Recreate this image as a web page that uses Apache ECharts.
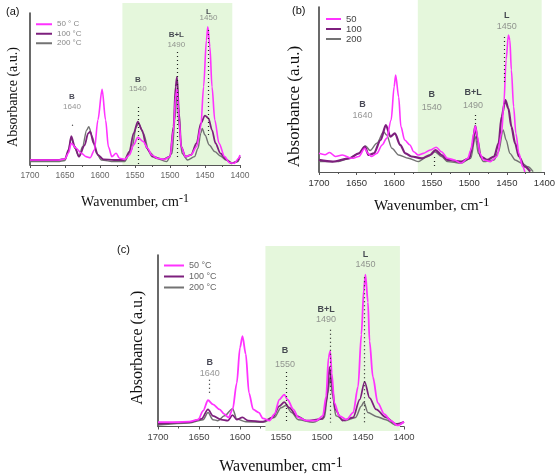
<!DOCTYPE html>
<html lang="en">
<head>
<meta charset="UTF-8">
<title>IR spectra</title>
<script src="https://cdn.jsdelivr.net/npm/echarts@6/dist/echarts.min.js"></script>
<style>html,body{margin:0;padding:0;background:#fff;}</style>
</head>
<body>
<div id="main" style="width:558px;height:476px;"></div>
<script type="text/javascript">

// spectra: [wavenumber cm-1, absorbance a.u.]
let a50 = [[1700,3.3],[1680,3.3],[1660,3.3],[1650,4],[1645,8],[1641,14.3],[1634,11],[1627,7.9],[1620,5.5],[1614,4.8],[1608,9.9],[1603,29.6],[1597,49.8],[1592,29.6],[1588,12],[1583,5.5],[1577,7.7],[1572,4.4],[1565,3.7],[1558,6.6],[1552,13.2],[1546,18.2],[1538,15.4],[1532,11],[1526,6.6],[1518,4.4],[1508,3.7],[1500,5.5],[1495,23],[1492,45],[1490,49.8],[1487,29.6],[1484,12],[1478,5.5],[1470,6.6],[1462,12],[1456,25.2],[1452,51.5],[1448,82],[1446,91],[1443,77.8],[1440,51.5],[1436,29.6],[1430,14.3],[1422,5.5],[1415,1.5],[1408,1.1],[1402,4.4],[1400,6.6]];
let a100 = [[1700,3.3],[1660,3.3],[1650,4],[1645,9.9],[1641,19],[1636,12],[1630,5.5],[1622,13],[1617,20.8],[1614,21.9],[1609,14.3],[1603,6.6],[1595,3.7],[1580,3.3],[1565,3.3],[1558,8.8],[1552,20.8],[1546,28.5],[1540,23],[1533,11],[1525,5.5],[1510,3.7],[1500,5.5],[1495,25.2],[1492,51.5],[1490,58],[1487,34],[1484,12],[1478,5.5],[1470,6.6],[1462,14.3],[1456,27.4],[1450,32.5],[1445,30.7],[1440,23],[1435,14.3],[1428,7.7],[1420,3.7],[1412,1.1],[1405,2.2],[1400,5.5]];
let a200 = [[1700,2.2],[1660,2.2],[1650,3],[1646,8],[1641,17.5],[1636,11],[1630,5.5],[1625,12],[1619,23],[1616,25.2],[1611,18.6],[1605,7.7],[1598,3.3],[1580,2.2],[1565,2.2],[1555,9.9],[1548,25.2],[1545,27.4],[1538,20.8],[1530,8.8],[1520,4.4],[1505,2.2],[1497,7.7],[1493,29.6],[1490,48],[1487,25.2],[1483,7.7],[1475,3.3],[1465,5.5],[1460,11],[1456,20.8],[1454,24.1],[1450,19.7],[1444,13.2],[1436,8.8],[1428,5.9],[1420,3.3],[1410,1.1],[1403,2.2],[1400,5.5]];

let b50 = [[1700,11.3],[1692,10.5],[1686,11.8],[1678,9.4],[1669,10.3],[1656,8.3],[1647,9.4],[1639,14.4],[1635,11.3],[1630,9.4],[1623,11.3],[1616,16.4],[1610,20.4],[1604,31.5],[1600,51.7],[1598,58.7],[1594,45.6],[1591,27.5],[1586,19.4],[1579,16.4],[1574,12.3],[1568,10.3],[1561,11.3],[1552,13.3],[1544,15],[1537,12.3],[1529,8.3],[1520,7.3],[1511,5.3],[1502,8.3],[1498,13.3],[1494,23.4],[1492,27.9],[1489,21.4],[1486,11.3],[1481,7.3],[1472,6.3],[1463,9.4],[1457,23.4],[1454,41.6],[1451,67.9],[1448,83],[1446,80],[1444,61.8],[1441,39.6],[1438,23.4],[1434,11.3],[1429,3.2],[1426,0]];
let b100 = [[1700,7.3],[1682,6.3],[1660,8.3],[1647,11.3],[1639,15.4],[1634,10.3],[1627,11.3],[1618,19.4],[1611,28.5],[1605,21.4],[1599,23.4],[1592,16.4],[1585,11.3],[1577,9.4],[1563,8.3],[1552,10.3],[1545,13.3],[1537,10.3],[1529,7.3],[1511,6.3],[1500,8.3],[1496,15.4],[1492,27.9],[1489,19.4],[1485,9.4],[1476,7.3],[1467,9.4],[1461,17.4],[1457,33.5],[1452,43.6],[1448,38.6],[1444,27.5],[1439,17.4],[1434,9.4],[1426,3.2],[1419,0.2]];
let b200 = [[1700,6.3],[1674,6.3],[1660,8.3],[1647,11.3],[1638,15.8],[1632,13],[1623,17.4],[1614,24.4],[1610,22.4],[1603,14.4],[1594,10.3],[1581,8.3],[1568,6.3],[1555,9.4],[1546,12.3],[1537,9.4],[1529,6.3],[1511,5.3],[1498,8.3],[1492,21.4],[1488,11.3],[1481,6.3],[1467,7.3],[1461,12.3],[1455,25.5],[1451,19.4],[1446,11.3],[1439,7.3],[1430,5.3],[1422,3.2],[1415,0.2]];

let c50 = [[1700,2.5],[1678,2.5],[1662,2.8],[1651,4],[1645,9.1],[1639,15.3],[1633,12.9],[1625,10],[1619,7.2],[1614,5.3],[1609,10],[1604,25.2],[1600,46],[1597,52.7],[1593,42.3],[1589,19.5],[1584,10],[1577,8.1],[1572,4.7],[1564,3.4],[1558,7.2],[1552,15.7],[1546,18.6],[1542,15.7],[1535,10],[1529,5.3],[1519,3.4],[1507,3.4],[1499,6.2],[1495,17.6],[1492,40.3],[1490,44],[1488,30.9],[1485,13.8],[1479,6.2],[1470,4],[1462,8.1],[1456,23.3],[1452,53.6],[1449,80],[1447,88.6],[1444,72.5],[1442,49.8],[1438,29],[1432,13.8],[1424,7.2],[1416,3.4],[1408,0.6],[1400,2.8]];
let c100 = [[1700,1.5],[1662,2.5],[1647,4.4],[1639,10],[1633,6.2],[1623,4],[1615,3.4],[1609,6.6],[1604,4],[1597,5.3],[1590,3.4],[1572,2.8],[1560,5.3],[1552,11.9],[1546,14.2],[1540,11],[1531,6.2],[1519,3.4],[1499,4.4],[1494,15.7],[1491,34.7],[1488,25.2],[1484,10],[1475,3.4],[1462,5.3],[1454,15.7],[1448,26.1],[1442,16.7],[1434,10],[1422,5.3],[1410,1.5],[1400,2.8]];
let c200 = [[1700,0.9],[1662,2.1],[1645,4],[1639,8.1],[1633,4],[1627,3.4],[1619,6.2],[1609,10.4],[1604,4.4],[1593,2.8],[1572,2.5],[1558,5.3],[1550,11],[1544,12.3],[1537,8.1],[1529,4],[1511,2.5],[1497,5.3],[1493,19.5],[1490,29],[1487,17.6],[1483,6.2],[1472,3.4],[1459,5.3],[1452,11.9],[1449,14.2],[1444,8.1],[1434,5.9],[1422,4],[1410,0.9],[1400,2.5]];

// peak labels: [wavenumber, y of letter, y of number, letter, number]
let annA = [[1640,44.7,38.2,'B','1640'],[1546,55.9,50,'B','1540'],[1491,85.5,79,'B+L','1490'],[1445,100.7,97,'L','1450']];
let annB = [[1642,41.2,34.5,'B','1640'],[1550,46.7,38.8,'B','1540'],[1495,47.9,40,'B+L','1490'],[1450,95,87.9,'L','1450']];
let annC = [[1637,37.5,30.9,'B','1640'],[1545,44.1,36.4,'B','1550'],[1495,68.4,62.1,'B+L','1490'],[1447,100,94.3,'L','1450']];

// dotted guide lines: [wavenumber, y from, y to]
let dotsA = [[1640,26.5,25],[1545,38.2,0],[1489,74.3,5.3],[1446,88.8,17.8]];
let dotsB = [[1546,9.1,2.4],[1492,34.5,27.3],[1454,81.8,53.9]];
let dotsC = [[1638,27.3,19.3],[1543,31.8,2.4],[1490,56.4,2.4],[1449,87,2.4]];

// shaded (green) wavenumber range
let bandA = [1568, 1411];
let bandB = [1570, 1407];
let bandC = [1569, 1405];

let namesA = ['50 ° C', '100 °C', '200 °C'];
let namesB = ['50', '100', '200'];
let namesC = ['50 °C', '100 °C', '200 °C'];

let wnMin = 1400, wnMax = 1700, wnStep = 50;

let colMag = '#ff33ff', colPur = '#7d1f7d', colGray = '#737373';

let serif = '"Liberation Serif", "DejaVu Serif", serif';
let sans = '"Liberation Sans", Arial, sans-serif';

// plot grids 0-2, shading grids 3-5 (the green band reaches a little above each axis)
let grids = [
    {left: 30, top: 13, width: 210, height: 152},
    {left: 319, top: 7, width: 228, height: 165},
    {left: 158, top: 255, width: 246, height: 176},
    {left: 30, top: 3, width: 210, height: 162},
    {left: 319, top: 0, width: 228, height: 172},
    {left: 158, top: 246, width: 246, height: 185}
];

function xAxisFor(i, labelSize, labelColor, nameSize, nameGap) {
    return {
        gridIndex: i, type: 'value', inverse: true,
        min: wnMin, max: wnMax, interval: wnStep,
        name: 'Wavenumber, cm{s|-1}', nameLocation: 'middle', nameGap: nameGap,
        nameTextStyle: {
            fontFamily: serif, fontSize: nameSize, color: '#111',
            rich: {s: {fontFamily: serif, fontSize: nameSize - 2, color: '#111', verticalAlign: 'top', padding: [0, 0, 7, 0]}}
        },
        axisLine: {lineStyle: {color: '#555', width: 1}},
        axisTick: {show: true, length: 3, lineStyle: {color: '#555'}},
        minorTick: {show: true, splitNumber: 2, length: 2, lineStyle: {color: '#555'}},
        axisLabel: {fontSize: labelSize, color: labelColor, fontFamily: sans, margin: 6, formatter: v => String(v)},
        splitLine: {show: false}
    };
}

function yAxisFor(i, nameSize, nameGap, shift) {
    return {
        gridIndex: i, type: 'value', min: 0, max: 100,
        name: 'Absorbance (a.u.)', nameLocation: 'middle', nameGap: nameGap,
        nameTextStyle: {fontFamily: serif, fontSize: nameSize, color: '#111', padding: [0, shift, 0, 0]},
        axisLine: {show: true, lineStyle: {color: '#444', width: 1.6}},
        axisTick: {show: false}, axisLabel: {show: false}, splitLine: {show: false}
    };
}

function hiddenX(i) {
    return {gridIndex: i, type: 'value', inverse: true, min: wnMin, max: wnMax, show: false};
}
function hiddenY(i) {
    return {gridIndex: i, type: 'value', min: 0, max: 1, show: false};
}

function bandSeries(i, band) {
    return {
        name: 'band' + i, type: 'line', xAxisIndex: i, yAxisIndex: i, data: [], z: 0, silent: true,
        markArea: {silent: true, itemStyle: {color: '#e5f7dc'},
            data: [[{coord: [band[0], 0]}, {coord: [band[1], 1]}]]}
    };
}

function panelSeries(i, d50, d100, d200, names, dots, ann, txtSize, lw) {
    let out = [];
    [[d200, names[2], colGray, lw[2]], [d100, names[1], colPur, lw[1]], [d50, names[0], colMag, lw[0]]].forEach(function (s) {
        out.push({
            name: s[1], type: 'line', xAxisIndex: i, yAxisIndex: i, data: s[0],
            showSymbol: false, symbol: 'none', smooth: 0.3, smoothMonotone: 'x', z: 2,
            color: s[2], lineStyle: {color: s[2], width: s[3]}
        });
    });
    out.push({
        name: 'dots' + i, type: 'line', xAxisIndex: i, yAxisIndex: i, data: [], z: 3, silent: true,
        markLine: {silent: true, symbol: ['none', 'none'], label: {show: false},
            lineStyle: {color: '#222', type: [1, 3], width: 1.2},
            data: dots.map(d => [{coord: [d[0], d[1]]}, {coord: [d[0], d[2]]}])}
    });
    out.push({
        name: 'letters' + i, type: 'scatter', xAxisIndex: i, yAxisIndex: i, symbolSize: 0, clip: false, z: 4, silent: true,
        data: ann.map(a => ({value: [a[0], a[1]], name: a[3]})),
        label: {show: true, position: 'inside', formatter: '{b}', color: '#1c1c2c', fontWeight: 'bold', fontSize: txtSize, fontFamily: sans}
    });
    out.push({
        name: 'numbers' + i, type: 'scatter', xAxisIndex: i, yAxisIndex: i, symbolSize: 0, clip: false, z: 4, silent: true,
        data: ann.map(a => ({value: [a[0], a[2]], name: a[4]})),
        label: {show: true, position: 'inside', formatter: '{b}', color: '#7a7a7a', fontSize: txtSize, fontFamily: sans}
    });
    return out;
}

function legendFor(names, left, top, w, size, color, lh) {
    return {
        data: names, orient: 'vertical', left: left, top: top, icon: 'rect', z: 10,
        itemWidth: w, itemHeight: 2, itemGap: 0, selectedMode: false,
        textStyle: {fontSize: size, color: color, fontFamily: sans, lineHeight: lh}
    };
}

let option = {
    backgroundColor: '#fff',
    animation: false,
    title: [
        {text: '(a)', left: 1, top: 1, textStyle: {fontSize: 11, fontWeight: 'normal', color: '#111', fontFamily: sans}},
        {text: '(b)', left: 287, top: 0, textStyle: {fontSize: 11, fontWeight: 'normal', color: '#111', fontFamily: sans}},
        {text: '(c)', left: 112, top: 239, textStyle: {fontSize: 11, fontWeight: 'normal', color: '#111', fontFamily: sans}}
    ],
    legend: [
        legendFor(namesA, 31, 14.5, 16, 8, '#888', 9.5),
        legendFor(namesB, 321, 9, 15, 9.5, '#444', 9.5),
        legendFor(namesC, 159, 255, 20, 9, '#666', 11)
    ],
    grid: grids,
    xAxis: [
        xAxisFor(0, 8.5, '#666', 14, 28),
        xAxisFor(1, 9.5, '#333', 15, 24),
        xAxisFor(2, 9.5, '#444', 16, 30),
        hiddenX(3), hiddenX(4), hiddenX(5)
    ],
    yAxis: [
        yAxisFor(0, 14, 10, 16),
        yAxisFor(1, 17, 16, 34),
        yAxisFor(2, 16, 12, 14),
        hiddenY(3), hiddenY(4), hiddenY(5)
    ],
    series: [].concat(
        [bandSeries(3, bandA), bandSeries(4, bandB), bandSeries(5, bandC)],
        panelSeries(0, a50, a100, a200, namesA, dotsA, annA, 8, [1.6, 1.8, 1.4]),
        panelSeries(1, b50, b100, b200, namesB, dotsB, annB, 9, [1.6, 2.2, 1.4]),
        panelSeries(2, c50, c100, c200, namesC, dotsC, annC, 9, [1.8, 1.7, 1.5])
    )
};

let myChart = echarts.init(document.getElementById('main'));
myChart.setOption(option);
</script>
</body>
</html>
